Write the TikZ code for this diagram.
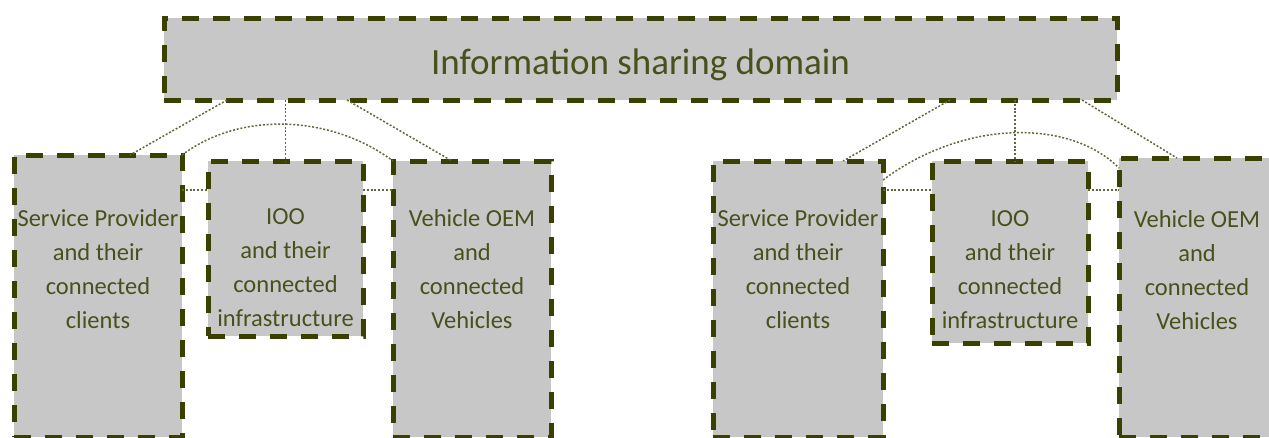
\documentclass[tikz,border=0pt]{standalone}
\usepackage{fontspec}
\setmainfont{Carlito}
\usepackage{tikz}

\definecolor{BoxFill}{RGB}{199,199,199}
\definecolor{BoxLine}{RGB}{58,64,0}
\definecolor{TextOlive}{RGB}{72,80,28}
\definecolor{LinkOlive}{RGB}{98,104,62}

\begin{document}
\begin{tikzpicture}[x=1pt, y=-1pt,
    domainbox/.style={shape=rectangle, draw=BoxLine, fill=BoxFill, line width=5pt,
        dash pattern=on 17pt off 14pt, inner sep=0pt, outer sep=0pt, anchor=north west},
    boxtext/.style={align=center, text=TextOlive, font=\fontsize{24.5}{34}\selectfont},
    link/.style={draw=LinkOlive, line width=1.5pt, dash pattern=on 2pt off 1.8pt}]

    \useasboundingbox (0,0) rectangle (1269,437);
    \clip (0,0) rectangle (1269,437);

    \node[domainbox, anchor=center, minimum width=953pt, minimum height=82pt, text=TextOlive,
        text height=38pt, font=\fontsize{37}{44}\selectfont] (Info) at (640.5,59) {Information sharing domain};


    \node[domainbox, minimum width=168pt, minimum height=282pt] (SPa) at (14,155) {};
    \node[domainbox, minimum width=155pt, minimum height=175pt] (IOOa) at (208,161) {};
    \node[domainbox, minimum width=158pt, minimum height=276pt] (OEMa) at (393,161) {};

    \node[domainbox, minimum width=170pt, minimum height=276pt] (SPb) at (713,161) {};
    \node[domainbox, minimum width=156pt, minimum height=182pt] (IOOb) at (932,161) {};
    \node[domainbox, minimum width=180pt, minimum height=279pt] (OEMb) at (1119,158) {};


    \node[boxtext] (SPaText) at (98,269) {Service Provider \\ and their \\ connected \\ clients};
    \node[boxtext] (IOOaText) at (285.5,268) {IOO \\ and their \\ connected \\ infrastructure};
    \node[boxtext] (OEMaText) at (472,269) {Vehicle OEM \\ and \\ connected \\ Vehicles};

    \node[boxtext] (SPbText) at (798,269) {Service Provider \\ and their \\ connected \\ clients};
    \node[boxtext] (IOObText) at (1010,270) {IOO \\ and their \\ connected \\ infrastructure};
    \node[boxtext] (OEMbText) at (1197,270) {Vehicle OEM \\ and \\ connected \\ Vehicles};


    \path [link] ([xshift=63pt]Info.south west) edge ([xshift=116pt]SPa.north west);
    \path [link] (IOOa.north |- Info.south) edge (IOOa.north);
    \path [link] ([xshift=183pt]Info.south west) edge ([xshift=59pt]OEMa.north west);
    \draw [link] (SPa.north east) .. controls +(60,-45) and +(-60,-45) .. (OEMa.north west);
        \path [link] ([yshift=-35pt]SPa.north east) edge ([yshift=-29pt]IOOa.north west);
        \path [link] ([yshift=-29pt]IOOa.north east) edge ([yshift=-29pt]OEMa.north west);

    \path [link] ([xshift=786pt]Info.south west) edge ([xshift=130pt]SPb.north west);
    \path [link] ([xshift=5pt]IOOb.north |- Info.south) edge ([xshift=5pt]IOOb.north);
    \path [link] ([xshift=918pt]Info.south west) edge ([xshift=58pt]OEMb.north west);
    \draw [link] ([yshift=-19pt]SPb.north east) .. controls +(80,-60) and +(-50,-50) .. ([yshift=-10pt]OEMb.north west);
        \path [link] ([yshift=-29pt]SPb.north east) edge ([yshift=-29pt]IOOb.north west);
        \path [link] ([yshift=-29pt]IOOb.north east) edge ([yshift=-32pt]OEMb.north west);

\end{tikzpicture}
\end{document}
